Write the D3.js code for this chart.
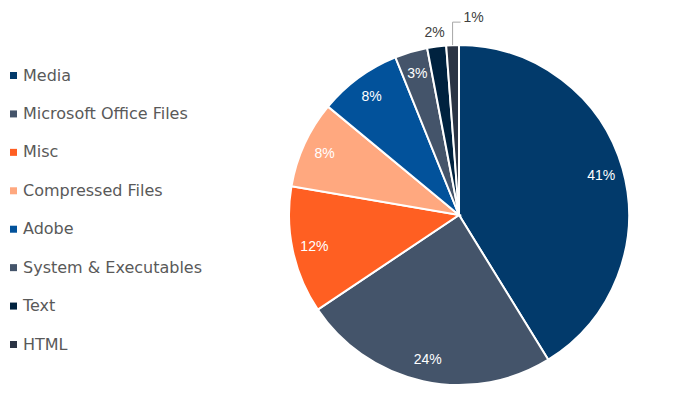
<!DOCTYPE html>
<html>
<head>
<meta charset="utf-8">
<script src="https://cdn.jsdelivr.net/npm/d3@7"></script>
<style>
  body { margin: 0; background: #fff; }
  svg { display: block; }
</style>
</head>
<body>
<script>
const categories = ['Media', 'Microsoft Office Files', 'Misc', 'Compressed Files', 'Adobe', 'System & Executables', 'Text', 'HTML']
const shares = [41.2, 24.4, 12.1, 8.3, 7.9, 3.1, 1.8, 1.2]
const colors = ['#023a6b', '#44546a', '#ff5f22', '#ffa87f', '#02529b', '#44546a', '#00223f', '#2b3444']

const width = 683
const height = 394
const cx = 459
const cy = 215
const radius = 170

let svg = d3.select('body')
  .append('svg')
  .attr('width', width)
  .attr('height', height)

let color = d3.scaleOrdinal()
  .domain(categories)
  .range(colors)

let pie = d3.pie()
  .sort(null)
  .value((d, i) => shares[i])

let arcs = pie(categories)

let arc = d3.arc()
  .innerRadius(0)
  .outerRadius(radius)

let labelArc = d3.arc()
  .innerRadius(radius * 0.87)
  .outerRadius(radius * 0.87)

let pct = (v) => d3.format('.0%')(v / 100)

let g = svg.append('g')
  .attr('transform', `translate(${cx},${cy})`)

g.selectAll('path')
  .data(arcs)
  .join('path')
  .attr('d', arc)
  .attr('fill', (d) => color(d.data))
  .attr('stroke', '#fff')
  .attr('stroke-width', 2)

// labels inside the bigger slices
g.selectAll('text.inside')
  .data(arcs.filter((d) => d.value >= 3))
  .join('text')
  .attr('class', 'inside')
  .attr('transform', (d) => `translate(${labelArc.centroid(d)})`)
  .attr('text-anchor', 'middle')
  .attr('dy', '0.35em')
  .style('font-family', 'Liberation Sans, Arial, sans-serif')
  .style('font-size', '14px')
  .attr('fill', '#fff')
  .text((d) => pct(d.value))

// the two thin slices get their labels outside
let small = arcs.filter((d) => d.value < 3)
let mid = (d) => (d.startAngle + d.endAngle) / 2

let textArc = small[0]
let a0 = mid(textArc)
g.append('text')
  .attr('x', Math.sin(a0) * (radius + 15))
  .attr('y', -Math.cos(a0) * (radius + 15))
  .attr('text-anchor', 'middle')
  .attr('dy', '0.35em')
  .style('font-family', 'Liberation Sans, Arial, sans-serif')
  .style('font-size', '14px')
  .attr('fill', '#404040')
  .text(pct(textArc.value))

let htmlArc = small[1]
let a1 = mid(htmlArc)
let x1 = Math.sin(a1) * radius
let y1 = -Math.cos(a1) * radius
let y2 = -Math.cos(a1) * (radius + 23)
g.append('polyline')
  .attr('points', `${x1},${y1} ${x1},${y2} ${x1 + 8},${y2}`)
  .attr('fill', 'none')
  .attr('stroke', '#a6a6a6')
  .attr('stroke-width', 1)
g.append('text')
  .attr('x', x1 + 11)
  .attr('y', y2 - 5)
  .attr('text-anchor', 'start')
  .attr('dy', '0.35em')
  .style('font-family', 'Liberation Sans, Arial, sans-serif')
  .style('font-size', '14px')
  .attr('fill', '#404040')
  .text(pct(htmlArc.value))

// legend
let legendY = d3.scalePoint()
  .domain(categories)
  .range([75, 344])

let legend = svg.append('g')
  .selectAll('g')
  .data(categories)
  .join('g')
  .attr('transform', (d) => `translate(10,${legendY(d)})`)

legend.append('rect')
  .attr('x', 0)
  .attr('y', -3)
  .attr('width', 7)
  .attr('height', 7)
  .attr('fill', (d) => color(d))

legend.append('text')
  .attr('x', 13)
  .attr('y', 0)
  .attr('dy', '0.35em')
  .style('font-family', 'DejaVu Sans, sans-serif')
  .style('font-size', '16px')
  .attr('fill', '#595959')
  .text((d) => d)
</script>
</body>
</html>
